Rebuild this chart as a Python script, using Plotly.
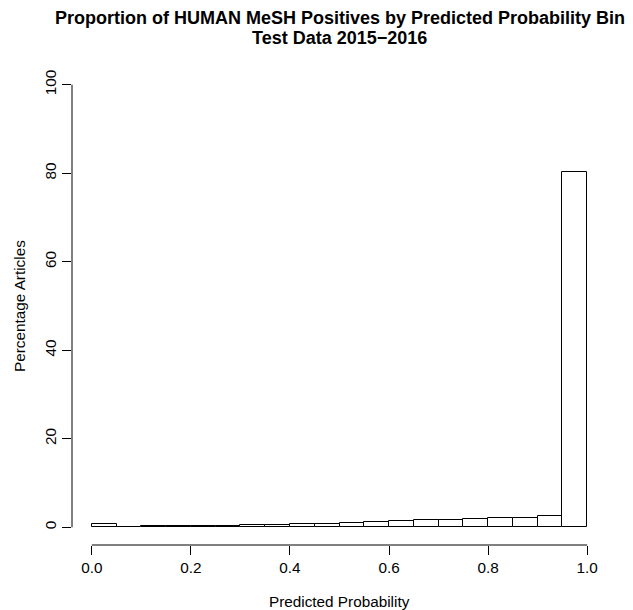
import plotly.graph_objects as go

# Data
bin_starts = [0.00, 0.05, 0.10, 0.15, 0.20, 0.25, 0.30, 0.35, 0.40, 0.45,
              0.50, 0.55, 0.60, 0.65, 0.70, 0.75, 0.80, 0.85, 0.90, 0.95]
bin_width = 0.05
percent_articles = [0.75, 0.15, 0.22, 0.28, 0.33, 0.38, 0.50, 0.55, 0.65, 0.80,
                    1.00, 1.10, 1.35, 1.60, 1.75, 1.90, 2.00, 2.20, 2.45, 80.3]
x_ticks = [0.0, 0.2, 0.4, 0.6, 0.8, 1.0]
x_tick_labels = ["0.0", "0.2", "0.4", "0.6", "0.8", "1.0"]
y_ticks = [0, 20, 40, 60, 80, 100]
y_tick_labels = ["0", "20", "40", "60", "80", "100"]
title_line1 = "Proportion of HUMAN MeSH Positives by Predicted Probability Bin"
title_line2 = "Test Data 2015\u22122016"
x_title = "Predicted Probability"
y_title = "Percentage Articles"

W, H = 633, 610
ML, MR, MT, MB = 72, 26, 67, 65
plot_h = H - MT - MB
plot_w = W - ML - MR

def py(pix):
    return (H - MB - pix) / plot_h

def px(pix):
    return (pix - ML) / plot_w

FONT = "Liberation Sans, Arial, Helvetica, sans-serif"

centers = [s + bin_width / 2 for s in bin_starts]

fig = go.Figure()
fig.add_trace(go.Bar(
    x=centers, y=percent_articles, width=[bin_width] * len(centers),
    marker=dict(color="white", line=dict(color="black", width=1)),
    showlegend=False, hoverinfo="skip",
))

fig.update_layout(
    width=W, height=H,
    margin=dict(l=ML, r=MR, t=MT, b=MB, pad=0),
    paper_bgcolor="white", plot_bgcolor="white",
    font=dict(family=FONT, color="black", size=15.3),
    bargap=0,
    xaxis=dict(range=[-0.04, 1.04], showgrid=False, zeroline=False, showline=False,
               tickmode="array", tickvals=x_ticks, ticktext=x_tick_labels,
               ticks="outside", ticklen=9, tickwidth=1, tickcolor="black",
               tickfont=dict(size=15.3, color="black")),
    yaxis=dict(range=[-4, 104], showgrid=False, zeroline=False, showline=False,
               tickmode="array", tickvals=y_ticks, ticktext=y_tick_labels,
               ticks="outside", ticklen=9, tickwidth=1, tickcolor="black",
               tickangle=-90, tickfont=dict(size=15.3, color="black")),
)

# detached R-style axis lines
fig.add_shape(type="line", xref="x", yref="paper", x0=x_ticks[0], x1=x_ticks[-1], y0=0, y1=0,
              line=dict(color="black", width=1))
fig.add_shape(type="line", xref="paper", yref="y", x0=0, x1=0, y0=y_ticks[0], y1=y_ticks[-1],
              line=dict(color="black", width=1))

cx = px((ML + W - MR) / 2)
fig.add_annotation(text="<b>" + title_line1 + "</b>", xref="paper", yref="paper",
                   x=0.5, y=py(17.5), xanchor="center", yanchor="middle", showarrow=False,
                   font=dict(size=18, family=FONT, color="black"))
fig.add_annotation(text="<b>" + title_line2 + "</b>", xref="paper", yref="paper",
                   x=0.5, y=py(38.5), xanchor="center", yanchor="middle", showarrow=False,
                   font=dict(size=18, family=FONT, color="black"))
fig.add_annotation(text=x_title, xref="paper", yref="paper",
                   x=0.5, y=py(601), xanchor="center", yanchor="middle", showarrow=False,
                   font=dict(size=15.3, family=FONT, color="black"))
fig.add_annotation(text=y_title, xref="paper", yref="paper", textangle=-90,
                   x=px(19), y=0.5, xanchor="center", yanchor="middle", showarrow=False,
                   font=dict(size=15.3, family=FONT, color="black"))

fig.write_html("out.html")
